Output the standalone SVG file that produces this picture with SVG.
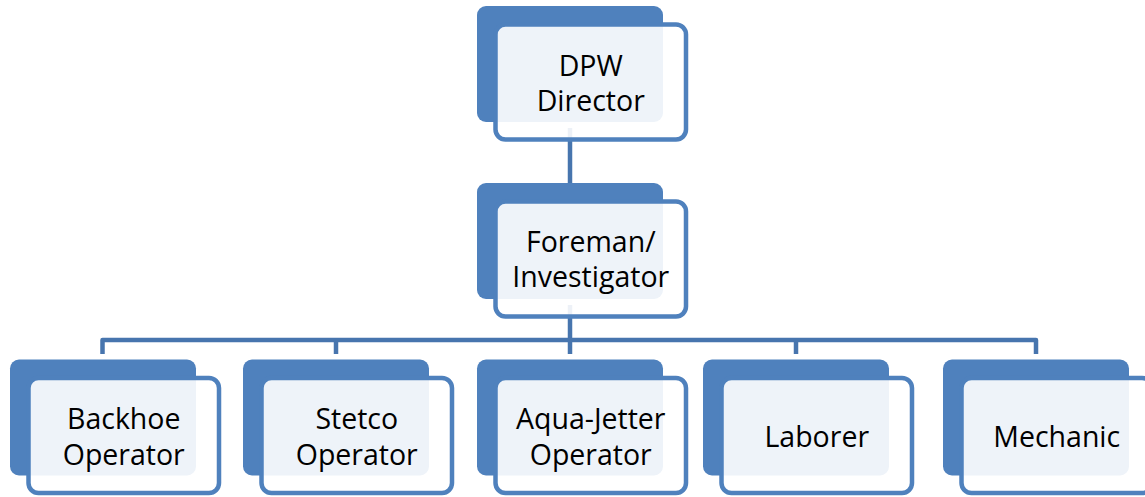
<svg xmlns="http://www.w3.org/2000/svg" width="1145" height="497" viewBox="0 0 1145 497">
  <style>
    .back { fill: #4F81BD; }
    .front { fill: #FFFFFF; fill-opacity: 0.9; stroke: #4F81BD; stroke-width: 4.5; }
    .label { font-family: "Open Sans", "Liberation Sans", sans-serif; font-size: 28.5px; fill: #000000; text-anchor: middle; }
    .link { fill: none; stroke: #4775AE; stroke-width: 4.5; stroke-linejoin: round; }
  </style>
  <rect width="1145" height="497" fill="#FFFFFF"/>

  <!-- reporting lines, drawn beneath the boxes -->
  <g id="connectors">
    <path class="link" d="M570 128 V183"/>
    <path class="link" d="M570 305 V340"/>
    <path class="link" d="M102.5 354 V340 H1036 V354"/>
    <path class="link" d="M336 340 V354"/>
    <path class="link" d="M570 340 V354"/>
    <path class="link" d="M796 340 V354"/>
  </g>

  <g id="dpw-director" transform="translate(477 6)">
    <rect class="back" width="186" height="116" rx="9"/>
    <rect class="front" x="18.5" y="18.5" width="190.5" height="115" rx="10"/>
    <text class="label" x="113.75" y="70">DPW</text>
    <text class="label" x="113.75" y="105">Director</text>
  </g>

  <g id="foreman-investigator" transform="translate(477 183)">
    <rect class="back" width="186" height="116" rx="9"/>
    <rect class="front" x="18.5" y="18.5" width="190.5" height="115" rx="10"/>
    <text class="label" x="113.75" y="69">Foreman/</text>
    <text class="label" x="113.75" y="104">Investigator</text>
  </g>

  <g id="backhoe-operator" transform="translate(10 359.5)">
    <rect class="back" width="186" height="116" rx="9"/>
    <rect class="front" x="18.5" y="18.5" width="190.5" height="115" rx="10"/>
    <text class="label" x="113.75" y="69.5">Backhoe</text>
    <text class="label" x="113.75" y="105">Operator</text>
  </g>

  <g id="stetco-operator" transform="translate(243 359.5)">
    <rect class="back" width="186" height="116" rx="9"/>
    <rect class="front" x="18.5" y="18.5" width="190.5" height="115" rx="10"/>
    <text class="label" x="113.75" y="69.5">Stetco</text>
    <text class="label" x="113.75" y="105">Operator</text>
  </g>

  <g id="aqua-jetter-operator" transform="translate(477 359.5)">
    <rect class="back" width="186" height="116" rx="9"/>
    <rect class="front" x="18.5" y="18.5" width="190.5" height="115" rx="10"/>
    <text class="label" x="113.75" y="69.5">Aqua-Jetter</text>
    <text class="label" x="113.75" y="105">Operator</text>
  </g>

  <g id="laborer" transform="translate(703 359.5)">
    <rect class="back" width="186" height="116" rx="9"/>
    <rect class="front" x="18.5" y="18.5" width="190.5" height="115" rx="10"/>
    <text class="label" x="113.75" y="87">Laborer</text>
  </g>

  <g id="mechanic" transform="translate(943 359.5)">
    <rect class="back" width="186" height="116" rx="9"/>
    <rect class="front" x="18.5" y="18.5" width="190.5" height="115" rx="10"/>
    <text class="label" x="113.75" y="87">Mechanic</text>
  </g>
</svg>
